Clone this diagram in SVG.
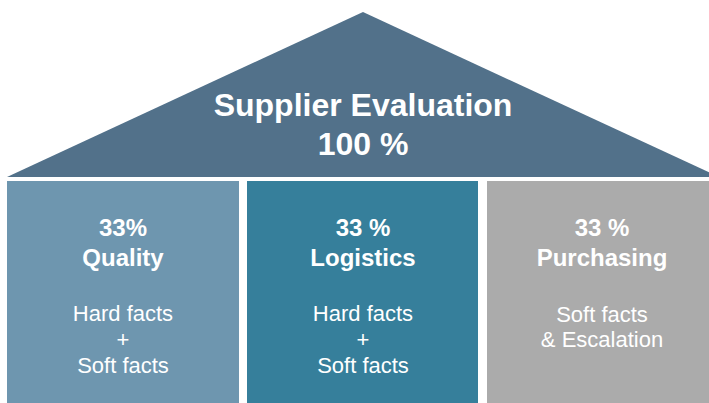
<svg xmlns="http://www.w3.org/2000/svg" width="709" height="403" viewBox="0 0 709 403">
<style>
.t{font-family:"Liberation Sans",Arial,sans-serif;fill:#ffffff;text-anchor:middle}
.b{font-weight:bold}
.h{font-size:32px}
.m{font-size:24px}
.s{font-size:22px}
</style>
<rect width="709" height="403" fill="#ffffff"/>
<g id="roof">
<polygon points="363,12 719,177 7,177" fill="#52718A"/>
<text class="t b h" x="363" y="116">Supplier Evaluation</text>
<text class="t b h" x="363" y="155">100 %</text>
</g>
<g id="quality">
<rect x="7" y="181" width="232" height="222" fill="#6E96AF"/>
<text class="t b m" x="123" y="236">33%</text>
<text class="t b m" x="123" y="266">Quality</text>
<text class="t s" x="123" y="321">Hard facts</text>
<text class="t s" x="123" y="347">+</text>
<text class="t s" x="123" y="373">Soft facts</text>
</g>
<g id="logistics">
<rect x="247" y="181" width="231" height="222" fill="#367F9B"/>
<text class="t b m" x="363" y="236">33 %</text>
<text class="t b m" x="363" y="266">Logistics</text>
<text class="t s" x="363" y="321">Hard facts</text>
<text class="t s" x="363" y="347">+</text>
<text class="t s" x="363" y="373">Soft facts</text>
</g>
<g id="purchasing">
<rect x="487" y="181" width="231" height="222" fill="#ABABAB"/>
<text class="t b m" x="602" y="236">33 %</text>
<text class="t b m" x="602" y="266">Purchasing</text>
<text class="t s" x="602" y="322" fill="#F2F2F2">Soft facts</text>
<text class="t s" x="602" y="347" fill="#F2F2F2">&amp; Escalation</text>
</g>
<g id="connectors"/>
</svg>
